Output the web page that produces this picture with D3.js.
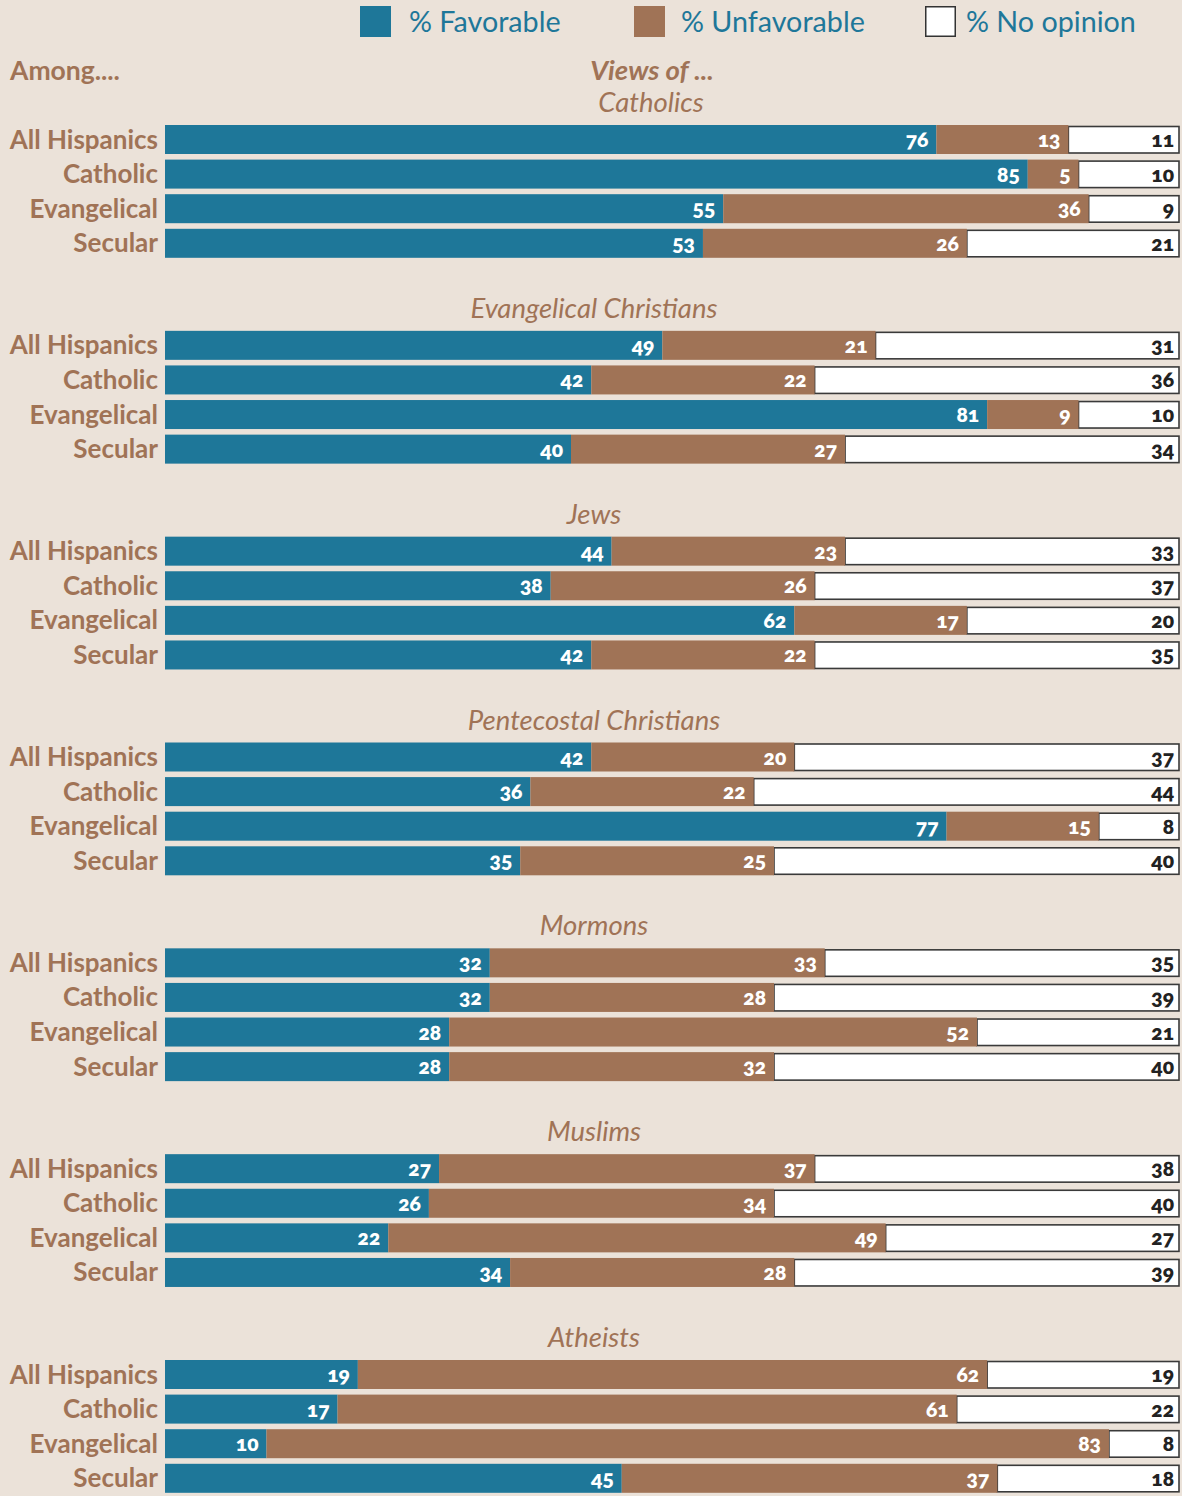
<!DOCTYPE html>
<html><head><meta charset="utf-8">
<script src="https://cdn.jsdelivr.net/npm/d3@7"></script>
<style>
html,body{margin:0;padding:0;background:#ebe2d9;}
svg{display:block;font-family:Lato,"Open Sans",sans-serif;}
.num{font-feature-settings:"onum" 1;font-variant-numeric:oldstyle-nums;}
</style></head>
<body><svg id="chart" width="1182" height="1496"></svg>
<script>
const sections = ["Catholics","Evangelical Christians","Jews","Pentecostal Christians","Mormons","Muslims","Atheists"];
const groups = ["All Hispanics","Catholic","Evangelical","Secular"];
const favorable = [
  [76,85,55,53],
  [49,42,81,40],
  [44,38,62,42],
  [42,36,77,35],
  [32,32,28,28],
  [27,26,22,34],
  [19,17,10,45]
];
const unfavorable = [
  [13,5,36,26],
  [21,22,9,27],
  [23,26,17,22],
  [20,22,15,25],
  [33,28,52,32],
  [37,34,49,28],
  [62,61,83,37]
];
const noOpinion = [
  [11,10,9,21],
  [31,36,10,34],
  [33,37,20,35],
  [37,44,8,40],
  [35,39,21,40],
  [38,40,27,39],
  [19,22,8,18]
];
const legendLabels = ["% Favorable","% Unfavorable","% No opinion"];

const BG="#ebe2d9", BLUE="#1e7799", BROWN="#a07356", TEXTBROWN="#a07356", TEAL="#1e7799";
const svg = d3.select("#chart");
svg.append("rect").attr("width",1182).attr("height",1496).attr("fill",BG);

const x = d3.scaleLinear().domain([0,100]).range([165,1180]);
const secY = d3.scaleLinear().domain([0,6]).range([125,1360]);
const rowPitch = 34.6, barH = 29;

// legend
const legColors=[BLUE,BROWN,"#fff"];
const legX=[360,634,925], legTextX=[409,681,966];
legendLabels.forEach((l,i)=>{
  svg.append("rect").attr("x",legX[i]+(i==2?0.75:0)).attr("y",6+(i==2?0.75:0))
    .attr("width",i==2?29.5:31).attr("height",i==2?29.5:31)
    .attr("fill",legColors[i]).attr("stroke",i==2?"#333":"none").attr("stroke-width",1.5);
  svg.append("text").attr("x",legTextX[i]).attr("y",32).attr("fill",TEAL)
    .attr("font-size",28.7).text(l);
});

svg.append("text").attr("x",10).attr("y",80).attr("fill",TEXTBROWN).attr("font-weight",700)
  .attr("font-size",26.5).text("Among....");
svg.append("text").attr("x",652).attr("y",80).attr("text-anchor","middle").attr("fill",TEXTBROWN)
  .attr("font-weight",700).attr("font-style","italic").attr("font-size",27.5).text("Views of ...");

sections.forEach((s,si)=>{
  const top = secY(si);
  svg.append("text").attr("x",si===0?651:594).attr("y",top-13).attr("text-anchor","middle")
    .attr("fill",TEXTBROWN).attr("font-style","italic").attr("font-size",27.5).text(s);
  const g = svg.append("g");
  groups.forEach((grp,ri)=>{
    const y0 = top + ri*rowPitch;
    const f = favorable[si][ri], u = unfavorable[si][ri], n = noOpinion[si][ri];
    g.append("text").attr("x",158).attr("y",y0+barH/2+9).attr("text-anchor","end")
      .attr("fill",TEXTBROWN).attr("font-weight",700).attr("font-size",26).text(grp);
    // white
    g.append("rect").attr("x",x(f+u)).attr("y",y0+1.5).attr("width",x(100)-x(f+u)-1)
      .attr("height",barH-2.5).attr("fill","#fff").attr("stroke","#3a3a3a").attr("stroke-width",1.6);
    g.append("rect").attr("x",x(0)).attr("y",y0).attr("width",x(f)-x(0)).attr("height",barH).attr("fill",BLUE);
    g.append("rect").attr("x",x(f)).attr("y",y0).attr("width",x(f+u)-x(f)).attr("height",barH).attr("fill",BROWN);
    const ty = y0+barH/2+7.5;
    g.append("text").attr("class","num").attr("x",x(f)-8).attr("y",ty).attr("text-anchor","end")
      .attr("fill","#fff").attr("font-weight",800).attr("font-size",21).text(f);
    g.append("text").attr("class","num").attr("x",x(f+u)-8).attr("y",ty).attr("text-anchor","end")
      .attr("fill","#fff").attr("font-weight",800).attr("font-size",21).text(u);
    g.append("text").attr("class","num").attr("x",x(100)-6).attr("y",ty).attr("text-anchor","end")
      .attr("fill","#222").attr("font-weight",800).attr("font-size",21).text(n);
  });
});
</script></body></html>
